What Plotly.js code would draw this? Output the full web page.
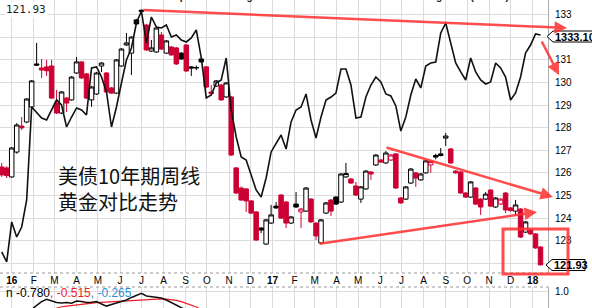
<!DOCTYPE html>
<html><head><meta charset="utf-8">
<script src="https://cdn.plot.ly/plotly-3.0.1.min.js"></script>
<style>html,body{margin:0;padding:0;background:#fff;} #chart{width:592px;height:308px;}</style>
</head><body><div id="chart"></div>
<script>
// ---- data (weekly bars, 10-year T-note futures; gold weekly close) ----
const firstWeek = '2015-12-18';
const weekCount = 109;
const openP = [126.26,126.22,125.82,126.92,128.07,128.25,128.92,130.82,130.64,130.69,
130.73,129.09,128.65,129.31,129.23,130.42,130.91,130.38,129.23,129.49,
130.73,130.42,129.76,129.53,130.73,131.66,131.30,132.77,133.20,132.54,
131.39,131.35,132.10,131.30,131.57,131.53,131.30,131.66,130.69,130.66,
131.04,130.69,129.58,129.84,129.89,129.36,129.36,126.22,125.33,125.29,
124.76,124.27,123.56,122.85,123.78,124.53,125.02,124.71,123.78,124.62,
124.27,124.31,124.84,123.78,122.90,124.22,124.80,124.93,124.71,125.82,
125.73,125.42,124.84,125.29,126.04,126.35,126.57,126.44,126.57,126.84,
124.89,124.84,125.55,126.00,125.69,126.00,126.35,126.77,126.84,127.54,
127.06,126.08,126.04,125.11,124.93,125.33,124.84,124.84,125.24,124.49,
124.62,125.11,124.45,124.31,124.40,123.38,123.47,123.30,122.72];
const highP = [126.44,126.30,127.15,128.20,128.47,129.31,130.11,131.75,131.04,131.00,
131.00,129.67,129.62,129.35,130.28,131.13,130.95,130.42,129.85,130.47,
130.90,130.46,129.80,131.04,131.52,132.19,132.05,132.81,133.22,132.60,
131.88,132.45,132.23,131.88,131.61,131.57,131.34,131.70,130.73,130.75,
131.08,130.73,129.89,130.11,129.93,130.02,129.40,126.26,125.40,125.33,
124.80,124.31,123.60,123.96,124.58,124.71,125.06,124.75,124.09,125.15,
124.44,125.37,124.88,123.82,123.96,124.71,124.84,124.97,125.99,126.44,
125.77,125.60,125.42,126.12,126.08,126.83,126.61,126.97,126.83,126.88,
124.93,125.42,126.21,126.04,125.99,126.57,126.54,126.85,127.10,127.76,
127.10,126.12,126.08,125.15,125.64,125.37,124.88,125.15,125.28,124.93,
124.88,125.15,124.49,124.80,124.44,123.87,123.51,123.34,122.76];
const lowP = [125.82,125.77,125.78,126.85,127.90,128.20,128.88,130.73,130.20,130.29,
129.27,128.61,128.60,128.69,129.20,130.38,130.15,129.27,128.92,129.45,
130.46,129.54,129.50,129.49,130.69,131.62,130.33,132.55,133.00,131.40,
131.35,131.31,131.44,131.26,131.18,130.78,131.00,130.47,130.29,130.55,
130.87,129.76,129.47,129.80,129.19,129.32,126.75,125.07,124.76,124.27,
124.18,122.99,123.34,122.81,123.74,124.41,123.96,123.56,123.74,124.45,
123.56,124.27,123.79,123.03,122.86,124.18,124.09,124.58,124.67,125.78,
125.51,124.98,124.67,125.25,125.69,126.31,126.44,126.40,126.53,125.29,
124.63,124.80,125.51,125.38,125.65,125.96,126.00,126.60,126.73,127.19,
126.40,125.96,125.07,124.89,124.89,124.58,124.14,124.80,124.49,124.45,
124.58,124.22,124.29,124.14,123.12,123.34,123.26,122.64,121.90];
const closeP = [125.91,125.88,127.10,128.12,127.99,129.27,130.07,130.77,130.55,130.52,
129.31,128.65,129.58,129.09,130.24,130.91,130.20,129.31,129.80,130.42,
130.86,129.58,129.53,131.00,131.48,131.75,132.01,132.59,133.15,131.44,
131.53,132.41,131.48,131.84,131.22,130.82,131.04,130.51,130.64,130.65,
130.91,129.80,129.51,130.07,129.23,129.98,126.79,125.11,124.80,124.76,
124.22,123.03,123.47,123.92,124.14,124.45,124.00,123.78,124.05,124.49,
124.40,125.33,123.83,123.21,123.92,124.67,124.31,124.62,125.95,125.97,
125.55,125.02,125.38,126.08,125.95,126.79,126.48,126.88,126.79,125.33,
124.67,125.38,126.17,125.77,125.95,126.53,126.50,126.70,126.77,127.63,
126.44,126.00,125.11,124.93,125.60,124.62,124.49,125.06,124.53,124.89,
124.84,124.36,124.33,124.58,123.16,123.83,123.30,122.68,121.93];
const goldClose = [1061.9,1049.4,1099.4,1080.6,1093.1,1126.9,1243.1,1236.9,1229.4,1226.9,
1239.4,1251.9,1245.6,1218.1,1230.6,1241.9,1239.4,1233.1,1291.9,1293.1,
1280.6,1261.9,1218.1,1243.1,1273.1,1301.9,1316.9,1348.1,1363.1,1323.1,
1355.6,1343.1,1341.9,1345.6,1330.6,1333.1,1326.9,1324.4,1329.4,1339.4,
1304.4,1254.4,1258.1,1273.1,1276.9,1304.4,1239.4,1205.6,1180.6,1176.9,
1158.1,1139.4,1130.6,1154.4,1186.9,1198.1,1208.1,1190.6,1224.4,1239.4,
1243.1,1259.4,1226.9,1204.4,1230.6,1251.9,1255.6,1260.6,1290.6,1290.6,
1270.6,1229.4,1230.6,1255.6,1270.6,1280.6,1274.4,1259.4,1256.9,1244.4,
1213.1,1230.6,1258.1,1278.1,1266.9,1294.4,1298.1,1299.4,1335.6,1348.1,
1324.4,1298.1,1286.9,1276.9,1304.4,1286.9,1276.9,1271.9,1274.4,1298.1,
1291.9,1280.6,1251.9,1260.6,1280.6,1310.6,1320.6,1334.4,1333.1];
const corrBlackStart = 5;
const corrBlack = [0.35,0.45,0.58,0.70,0.77,0.71,0.67,0.66,0.67,0.65,0.72,0.70,0.67,0.68,0.70,0.625,0.56,0.61,0.65,0.69,0.75,0.83,0.90,0.96,0.875,0.85,0.84,0.81,0.75,0.67,0.60,0.52,0.42,0.35];
const corrRedStart = 9;
const corrRed = [0.40,0.45,0.51,0.54,0.56,0.58,0.60,0.62,0.635,0.65,0.665,0.675,0.685,0.695,0.70,0.715,0.73,0.745,0.755,0.765,0.77,0.78,0.79,0.785,0.78,0.77,0.74,0.70,0.65,0.59,0.53,0.45,0.40];
const monthTicks = ['2016-01-01','2016-02-01','2016-03-01','2016-04-01','2016-05-01','2016-06-01','2016-07-01','2016-08-01','2016-09-01','2016-10-01','2016-11-01','2016-12-01',
'2017-01-01','2017-02-01','2017-03-01','2017-04-01','2017-05-01','2017-06-01','2017-07-01','2017-08-01','2017-09-01','2017-10-01','2017-11-01','2017-12-01','2018-01-01'];
const monthLabels = ['<b>16</b>','F','M','A','M','J','J','A','S','O','N','D','<b>17</b>','F','M','A','M','J','J','A','S','O','N','D','<b>18</b>'];
const priceTicks = [122,123,124,125,126,127,128,129,130,131,132,133];
const priceLabels = ['','123','124','125','126','127','128','129','130','131','','133'];
const corrTicks = [0.5, 1.0];
const corrLabels = ['0.5','1.0'];
const lastPrice = '121.93';
const lastGold = '1333.10';
const corrValues = ['-0.780', '-0.515', '-0.265'];
const titleLines = ['美债10年期周线', '黄金对比走势'];

// ---- build ----
const DAY = 86400000;
const dates = [];
{ const d0 = new Date(firstWeek + 'T00:00:00Z');
  for (let i = 0; i < weekCount; i++) dates.push(new Date(d0.getTime() + i*7*DAY).toISOString().slice(0,10)); }

const RED = '#cc0033';
const kinds = ['hollowBlack','hollowRed','filledBlack','filledRed'];
const kindOf = closeP.map((c,i) => {
  const o = openP[i]; const prev = i ? closeP[i-1] : o;
  if (c > o) return c >= prev ? 'hollowBlack' : 'hollowRed';
  return (i > 0 && c > prev) ? 'filledBlack' : 'filledRed';
});
const styles = {
  hollowBlack: {inc:{line:{color:'#000',width:1},fillcolor:'#fff'}, dec:{line:{color:'#000',width:1},fillcolor:'#000'}},
  hollowRed:   {inc:{line:{color:RED,width:1},fillcolor:'#fff'}, dec:{line:{color:RED,width:1},fillcolor:RED}},
  filledBlack: {inc:{line:{color:'#000',width:1},fillcolor:'#fff'}, dec:{line:{color:'#000',width:1},fillcolor:'#000'}},
  filledRed:   {inc:{line:{color:RED,width:1},fillcolor:'#fff'}, dec:{line:{color:RED,width:1},fillcolor:RED}}
};
const traces = kinds.map(k => {
  const m = arr => arr.map((v,i) => kindOf[i] === k ? v : null);
  return {type:'candlestick', x:dates, open:m(openP), high:m(highP), low:m(lowP), close:m(closeP),
    increasing:styles[k].inc, decreasing:styles[k].dec, whiskerwidth:0, hoverinfo:'skip', showlegend:false,
    xaxis:'x', yaxis:'y'};
});
traces.push({type:'scatter', mode:'lines', x:dates, y:goldClose, xaxis:'x', yaxis:'y2',
  line:{color:'#111', width:1.6}, hoverinfo:'skip', showlegend:false});
traces.push({type:'scatter', mode:'lines', x:dates.slice(corrRedStart, corrRedStart+corrRed.length), y:corrRed,
  xaxis:'x', yaxis:'y3', line:{color:'#ee1c25', width:1.2}, hoverinfo:'skip', showlegend:false});
traces.push({type:'scatter', mode:'lines', x:dates.slice(corrBlackStart, corrBlackStart+corrBlack.length), y:corrBlack,
  xaxis:'x', yaxis:'y3', line:{color:'#111', width:1.5}, hoverinfo:'skip', showlegend:false});

// ---- layout helpers (pixel -> paper, for overlay drawings only) ----
const W = 548, H = 308;
const px = x => x / W, py = y => (H - y) / H;
const ARROW = 'rgba(255,45,45,0.85)';
const FONT = 'Liberation Sans, Arial, sans-serif';
const arrow = (x1,y1,x2,y2) => ({xref:'paper', yref:'paper', x:px(x2), y:py(y2), ax:x1-x2, ay:y1-y2,
  text:'', showarrow:true, arrowhead:2, arrowsize:1, arrowwidth:2.5, arrowcolor:ARROW, standoff:0});

const annotations = [
  arrow(142,10,567,28), arrow(541,40,559,75), arrow(385,147,553,197), arrow(318,244,537,212),
  {xref:'paper', yref:'paper', x:px(56), y:py(188), xanchor:'left', yanchor:'middle', align:'left', showarrow:false,
   text:titleLines.join('<br>'), font:{family:'Noto Sans CJK SC', size:20, color:'#111'}},
  {xref:'paper', yref:'paper', x:px(553), y:py(36.5), xanchor:'left', yanchor:'middle', showarrow:false,
   text:'<b>'+lastGold+'</b>', font:{family:FONT, size:11, color:'#000'}},
  {xref:'paper', yref:'paper', x:px(552), y:py(265), xanchor:'left', yanchor:'middle', showarrow:false,
   text:'<b>'+lastPrice+'</b>', font:{family:FONT, size:11, color:'#000'}},
  {xref:'paper', yref:'paper', x:px(4), y:py(10), xanchor:'left', yanchor:'middle', showarrow:false,
   text:lastPrice, bgcolor:'#fff', borderpad:1, font:{family:'DejaVu Sans Mono', size:11, color:'#222'}},
  {xref:'paper', yref:'paper', x:px(170), y:py(-3), xanchor:'left', yanchor:'middle', showarrow:false,
   text:'<b>Open 122.66  High 122.84  Low 121.90  Close 121.93  Chg -0.75 (-0.61%)</b>', font:{family:FONT, size:10, color:'#222'}},
  {xref:'paper', yref:'paper', x:px(134), y:py(293), xanchor:'right', yanchor:'middle', showarrow:false,
   text:'<span style="color:#000">n '+corrValues[0]+'</span><span style="color:#ee1c25">, '+corrValues[1]+'</span><span style="color:#2a8fd4">, '+corrValues[2]+'</span>',
   font:{family:FONT, size:12, color:'#000'}}
];

const calloutPath = (tipX, cy, h, right) => {
  const t = cy - h/2, b = cy + h/2, bx = tipX + 6;
  return `M ${px(tipX)},${py(cy)} L ${px(bx)},${py(t)} L ${px(right)},${py(t)} L ${px(right)},${py(b)} L ${px(bx)},${py(b)} Z`;
};
const shapes = [
  {type:'line', xref:'paper', yref:'paper', x0:0, x1:1, y0:py(273), y1:py(273), line:{color:'#999', width:1, dash:'dot'}},
  {type:'line', xref:'paper', yref:'paper', x0:0, x1:1, y0:py(287), y1:py(287), line:{color:'#999', width:1, dash:'dot'}},
  {type:'path', xref:'paper', yref:'paper', path:calloutPath(547,36.5,11,600), fillcolor:'#fff', line:{color:'#000', width:1}},
  {type:'path', xref:'paper', yref:'paper', path:calloutPath(546,265,11,585), fillcolor:'#fff', line:{color:'#000', width:1}},
  {type:'rect', xref:'paper', yref:'paper', x0:px(503), x1:px(568), y0:py(274), y1:py(229), line:{color:ARROW, width:3}}
];

const layout = {
  width:592, height:308, margin:{l:0, r:44, t:0, b:0, pad:0},
  paper_bgcolor:'#fff', plot_bgcolor:'#fff', showlegend:false, hovermode:false,
  boxgap:0.1, boxgroupgap:0,
  xaxis:{type:'date', range:['2015-12-15 14:00','2018-01-22 12:00'], anchor:'y',
    tickvals:monthTicks, ticktext:monthLabels, ticks:'', showgrid:true, gridcolor:'#dcdcdc', gridwidth:1,
    zeroline:false, showline:false, tickfont:{family:FONT, size:10, color:'#000'}, rangeslider:{visible:false}, fixedrange:true},
  yaxis:{domain:[py(273), 1], range:[121.57, 133.65], side:'right', anchor:'x', tickvals:priceTicks, ticktext:priceLabels,
    ticks:'', showgrid:true, gridcolor:'#dcdcdc', zeroline:false, showline:true, linecolor:'#aaa', linewidth:1,
    tickfont:{family:FONT, size:10, color:'#000'}, ticklabelstandoff:4, fixedrange:true},
  yaxis2:{overlaying:'y', range:[1035.6, 1376.85], visible:false, showgrid:false, fixedrange:true},
  yaxis3:{domain:[0, py(287)], range:[0.5, 1.156], side:'right', anchor:'x', tickvals:corrTicks, ticktext:corrLabels,
    ticks:'', showgrid:true, gridcolor:'#dcdcdc', zeroline:false, showline:true, linecolor:'#aaa', linewidth:1,
    tickfont:{family:FONT, size:10, color:'#000'}, ticklabelstandoff:4, fixedrange:true},
  annotations:annotations, shapes:shapes
};
Plotly.newPlot('chart', traces, layout, {staticPlot:true, displayModeBar:false});
</script></body></html>
